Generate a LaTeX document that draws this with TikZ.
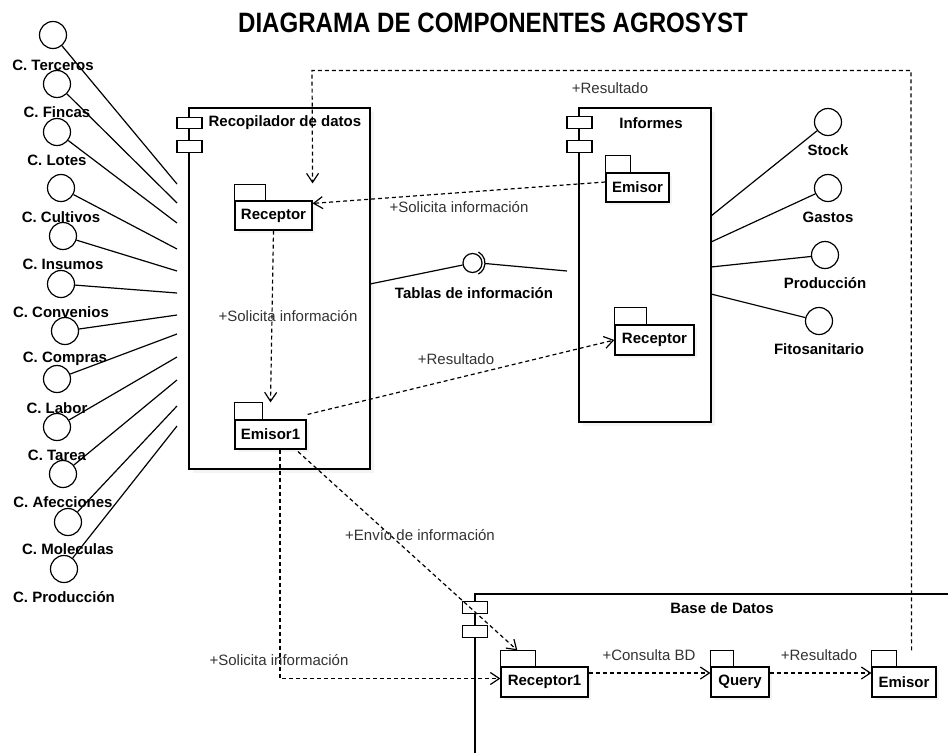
\documentclass[tikz,border=0pt]{standalone}
\usepackage{fontspec}
\setmainfont{Liberation Sans}
\usetikzlibrary{arrows.meta,calc,shadows}
\definecolor{lblgray}{HTML}{333333}
\begin{document}
\begin{tikzpicture}[x=1pt,y=-1pt,line width=1.2pt,
  iface/.style={circle,draw,minimum size=27pt,inner sep=0pt},
  blbl/.style={font=\fontsize{15}{18}\selectfont\bfseries,inner sep=1pt},
  elbl/.style={font=\fontsize{15}{18}\selectfont,text=lblgray,inner sep=1pt},
  compbox/.style={draw,fill=white,inner sep=0pt,drop shadow={shadow xshift=4pt,shadow yshift=-4pt,fill=black!8}},
  iconbox/.style={draw,fill=white,minimum width=25pt,minimum height=11.5pt,inner sep=0pt},
  pkgbody/.style={draw,fill=white,inner sep=0pt,font=\fontsize{15}{18}\selectfont\bfseries,drop shadow={shadow xshift=3pt,shadow yshift=-3pt,fill=black!8}},
  dep/.style={dash pattern=on 4pt off 3pt,-{Straight Barb[length=9pt,width=12pt]}}
]
\useasboundingbox (0,0) rectangle (948,753);
\fill[white] (0,0) rectangle (948,753);

% title
\node[inner sep=0pt] (title) at (493,23) {\scalebox{0.86}[1]{\fontsize{28}{32}\selectfont\bfseries DIAGRAMA DE COMPONENTES AGROSYST}};

% components
\node[compbox,minimum width=181pt,minimum height=361pt] (rec) at (279.5,288.5) {};
\node[iconbox] (recI1) at (189.5,123) {};
\node[iconbox] (recI2) at (189.5,146.5) {};
\node[blbl,anchor=west] (recT) at (207,123) {Recopilador de datos};

\node[compbox,minimum width=132pt,minimum height=314pt] (inf) at (645,265) {};
\node[iconbox] (infI1) at (579.5,122.5) {};
\node[iconbox] (infI2) at (579.5,146.5) {};
\node[blbl] (infT) at (651,123) {Informes};

% Base de Datos (partially visible)
\coordinate (dbTL) at (475,594);
\coordinate (dbTR) at (948,594);
\coordinate (dbBL) at (475,753);
\draw (dbTR) -- (dbTL) -- (dbBL);
\node[iconbox] (dbI1) at (475,607.5) {};
\node[iconbox] (dbI2) at (475,631.5) {};
\node[blbl] (dbT) at (722,608) {Base de Datos};

% packages
\node[pkgbody,minimum width=77pt,minimum height=29pt] (recRcv) at (273.5,215.5) {Receptor};
\draw[fill=white] (recRcv.north west) rectangle ++(31,-16);
\node[pkgbody,minimum width=71pt,minimum height=29pt] (recEm) at (270.5,434.5) {Emisor1};
\draw[fill=white] (recEm.north west) rectangle ++(28,-17);
\node[pkgbody,minimum width=63pt,minimum height=29pt] (infEm) at (637.5,187.5) {Emisor};
\draw[fill=white] (infEm.north west) rectangle ++(25,-17);
\node[pkgbody,minimum width=79pt,minimum height=30pt] (infRcv) at (654.5,340) {Receptor};
\draw[fill=white] (infRcv.north west) rectangle ++(32,-17);
\node[pkgbody,minimum width=87pt,minimum height=30pt] (dbRcv) at (544.5,682) {Receptor1};
\draw[fill=white] (dbRcv.north west) rectangle ++(35,-16);
\node[pkgbody,minimum width=58pt,minimum height=30pt] (dbQ) at (740,682) {Query};
\draw[fill=white] (dbQ.north west) rectangle ++(23,-16);
\node[pkgbody,minimum width=64pt,minimum height=30pt] (dbEm) at (904,682) {Emisor};
\draw[fill=white] (dbEm.north west) rectangle ++(25,-16);

% left interfaces
\foreach \i/\x/\y/\ly/\t/\e in {
  1/53/35/65/C. Terceros/184,
  2/57/84/112/C. Fincas/203,
  3/57/132/160/C. Lotes/223,
  4/61/188/217/C. Cultivos/249,
  5/63/236/264/C. Insumos/271,
  6/61/284/312/C. Convenios/293,
  7/65/331/359/C. Compras/315,
  8/57/379/408/C. Labor/334,
  9/57/427/455/C. Tarea/357,
  10/63/474/502/C. Afecciones/380,
  11/68/522/549/C. Moleculas/406,
  12/64/569/597/C. Producción/426}{
  \node[iface] (lc\i) at (\x,\y) {};
  \node[blbl] (ll\i) at (\x,\ly) {\t};
  \coordinate (le\i) at (177,\e);
  \draw (lc\i) -- (le\i);
}

% right interfaces
\foreach \i/\x/\y/\ly/\t/\e in {
  1/828/122/150/Stock/216,
  2/828/188/217/Gastos/242,
  3/825/255/283/Producción/267,
  4/819/321/349/Fitosanitario/294}{
  \node[iface] (rc\i) at (\x,\y) {};
  \node[blbl] (rl\i) at (\x,\ly) {\t};
  \coordinate (re\i) at (711,\e);
  \draw (rc\i) -- (re\i);
}

% lollipop interface
\node[circle,draw,minimum size=19pt,inner sep=0pt] (ball) at (472.5,263) {};
\draw ([shift={(472.5,263)}]-62:12.5) arc[start angle=-62,end angle=62,radius=12.5];
\coordinate (sock) at (485,263.5);
\coordinate (recR) at (370,284);
\coordinate (infL) at (567,271);
\draw (recR) -- (ball);
\draw (sock) -- (infL);
\node[blbl] (tabl) at (474,293) {Tablas de información};

% dependencies
\draw[dep] (infEm.west) ++(0,-5.5) -- ($(recRcv.north east)+(0,3)$);
\node[elbl] at (459,207) {+Solicita información};

\draw[dep] (recRcv.south) -- ($(recEm.north)+(0,-17)$);
\node[elbl] at (288,316) {+Solicita información};

\draw[dep] ($(recEm.north east)+(1,-5)$) -- (infRcv.west);
\node[elbl] at (456,359) {+Resultado};

\draw[dep] ($(recEm.south)+(27.5,2)$) -- ($(dbRcv.north west)+(17,-16)$);
\node[elbl] at (420,535) {+Envío de información};

\draw[dep] ($(recEm.south)+(9.5,0)$) |- ($(dbRcv.west)+(0,-3.5)$);
\node[elbl] at (279,660) {+Solicita información};

\draw[dep] ($(dbRcv.east)+(0,-9)$) -- ($(dbQ.west)+(0,-9)$);
\node[elbl] at (649,655) {+Consulta BD};

\draw[dep] ($(dbQ.east)+(0,-9)$) -- ($(dbEm.west)+(0,-9)$);
\node[elbl] at (819,655) {+Resultado};

\coordinate (loopTR) at (911,70.5);
\coordinate (loopTL) at (312,70.5);
\draw[dep] ($(dbEm.north east)+(-25,-16)$) -- (loopTR) -- (loopTL) -- ($(recRcv.north east)+(0,-17)$);
\node[elbl] at (610,88) {+Resultado};
\end{tikzpicture}
\end{document}
